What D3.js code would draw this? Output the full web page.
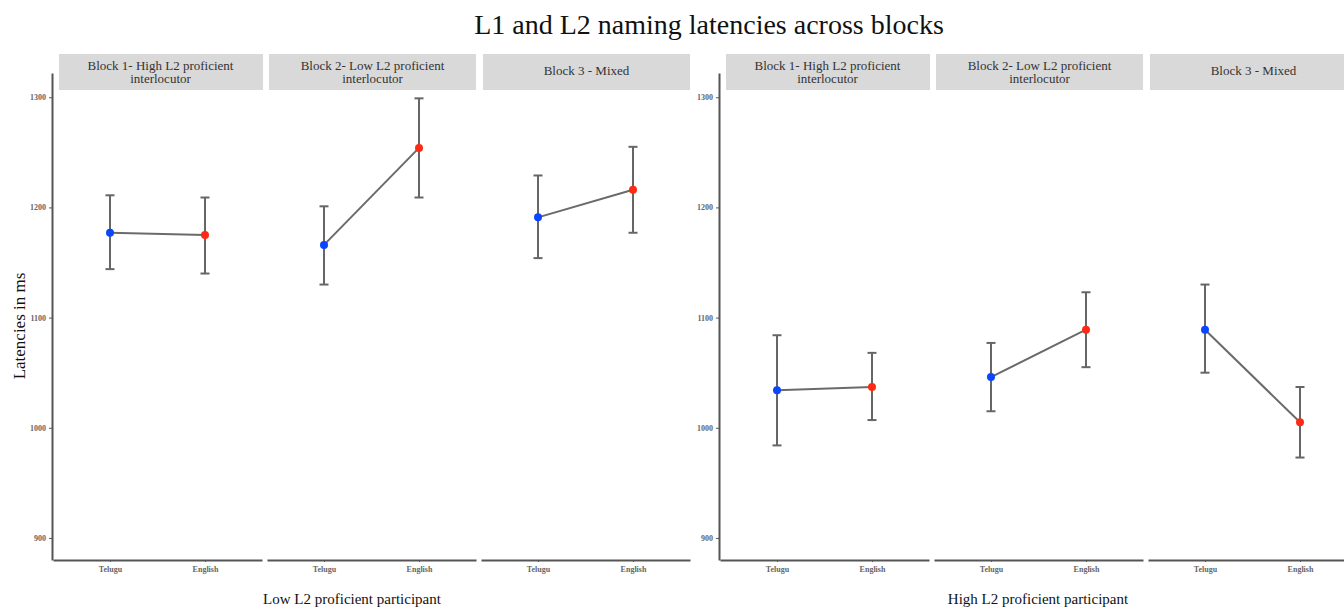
<!DOCTYPE html>
<html>
<head>
<meta charset="utf-8">
<script src="https://cdn.jsdelivr.net/npm/d3@7"></script>
<style>
  body { margin: 0; background: #fff; }
  svg { display: block; font-family: "Liberation Serif", "Times New Roman", serif; }
</style>
</head>
<body>
<div class="svg-container"></div>
<script>
// data
var blocks = ["Block 1- High L2 proficient|interlocutor", "Block 2- Low L2 proficient|interlocutor", "Block 3 - Mixed"];
var languages = ["Telugu", "English"];
var groups = ["Low L2 proficient participant", "High L2 proficient participant"];
var yTicks = [900, 1000, 1100, 1200, 1300];

// per block: [Telugu, English]
var lowMean  = [[1177, 1175], [1166, 1254], [1191, 1216]];
var lowUpper = [[1211, 1209], [1201, 1299], [1229, 1255]];
var lowLower = [[1144, 1140], [1130, 1209], [1154, 1177]];

var highMean  = [[1034, 1037], [1046, 1089], [1089, 1005]];
var highUpper = [[1084, 1068], [1077, 1123], [1130, 1037]];
var highLower = [[984, 1007], [1015, 1055], [1050, 973]];

var langColors = ["#0a46ff", "#ff2a14"];

function render() {
    var width = 1344;
    var height = 607;

    var svg = d3.select(".svg-container").append("svg")
        .attr("width", width)
        .attr("height", height);

    // title
    svg.append("text")
        .attr("x", 709)
        .attr("y", 34)
        .attr("text-anchor", "middle")
        .style("font-size", "28px")
        .style("fill", "#111")
        .text("L1 and L2 naming latencies across blocks");

    // Y axis label
    svg.append("text")
        .attr("transform", "rotate(-90)")
        .attr("x", -326)
        .attr("y", 25)
        .attr("text-anchor", "middle")
        .style("font-size", "17px")
        .style("fill", "#111")
        .text("Latencies in ms");

    var y = d3.scaleLinear().domain([880, 1322]).range([560, 73]);

    var plotX = [53, 720];
    var titleX = [352, 1038];
    var panelW = 209;
    var gap = 5;
    var stripTop = 54, stripH = 36;

    var allMean = [lowMean, highMean];
    var allUp = [lowUpper, highUpper];
    var allLo = [lowLower, highLower];

    groups.forEach(function(g, gi) {
        var gx = plotX[gi];

        // y axis on the leftmost panel
        var yAxis = svg.append("g")
            .attr("transform", "translate(" + (gx - 1) + ",0)")
            .call(d3.axisLeft(y).tickValues(yTicks).tickFormat(d3.format("d")).tickSize(3).tickSizeOuter(0));
        yAxis.select(".domain").attr("stroke", "#555").attr("stroke-width", 2);
        yAxis.selectAll(".tick line").attr("stroke", "#555");
        yAxis.selectAll(".tick text")
            .style("font-size", "8px")
            .style("font-weight", "bold")
            .style("fill", "#666")
            .style("font-family", "Liberation Serif, serif");

        // bottom title
        svg.append("text")
            .attr("x", titleX[gi])
            .attr("y", 604)
            .attr("text-anchor", "middle")
            .style("font-size", "15px")
            .style("fill", "#111")
            .text(g);

        blocks.forEach(function(b, bi) {
            var px = gx + bi * (panelW + gap);

            var x = d3.scalePoint().domain(languages).range([0, panelW]).padding(0.6);

            var panel = svg.append("g").attr("transform", "translate(" + px + ",0)");

            // strip
            panel.append("rect")
                .attr("x", bi === 0 ? 6 : 2)
                .attr("y", stripTop)
                .attr("width", bi === 0 ? panelW - 5 : panelW - 2)
                .attr("height", stripH)
                .attr("fill", "#d9d9d9");

            var lines = b.split("|");
            lines.forEach(function(l, li) {
                panel.append("text")
                    .attr("x", panelW / 2 + (bi === 0 ? 3 : 1))
                    .attr("y", lines.length > 1 ? stripTop + 16 + li * 13 : stripTop + 21)
                    .attr("text-anchor", "middle")
                    .style("font-size", "13px")
                    .style("fill", "#333")
                    .text(l);
            });

            // x axis
            var xAxis = panel.append("g")
                .attr("transform", "translate(0,560)")
                .call(d3.axisBottom(x).tickSize(2).tickSizeOuter(0));
            xAxis.select(".domain").attr("stroke", "#555").attr("stroke-width", 2);
            xAxis.selectAll(".tick line").attr("stroke", "#555");
            xAxis.selectAll(".tick text")
                .attr("dy", "0.9em")
                .style("font-size", "8px")
                .style("font-weight", "bold")
                .style("fill", "#666")
                .style("font-family", "Liberation Serif, serif");

            var pts = languages.map(function(lang, li) {
                return {
                    lang: lang,
                    mean: allMean[gi][bi][li],
                    up: allUp[gi][bi][li],
                    lo: allLo[gi][bi][li],
                    color: langColors[li]
                };
            });

            // error bars
            var eb = panel.selectAll(".eb").data(pts).enter().append("g");
            eb.append("line")
                .attr("x1", function(d) { return x(d.lang); })
                .attr("x2", function(d) { return x(d.lang); })
                .attr("y1", function(d) { return y(d.up); })
                .attr("y2", function(d) { return y(d.lo); })
                .attr("stroke", "#666")
                .attr("stroke-width", 2);
            ["up", "lo"].forEach(function(k) {
                eb.append("line")
                    .attr("x1", function(d) { return x(d.lang) - 4.5; })
                    .attr("x2", function(d) { return x(d.lang) + 4.5; })
                    .attr("y1", function(d) { return y(d[k]); })
                    .attr("y2", function(d) { return y(d[k]); })
                    .attr("stroke", "#666")
                    .attr("stroke-width", 2);
            });

            // connecting line
            var line = d3.line()
                .x(function(d) { return x(d.lang); })
                .y(function(d) { return y(d.mean); });
            panel.append("path")
                .datum(pts)
                .attr("d", line)
                .attr("fill", "none")
                .attr("stroke", "#6a6a6a")
                .attr("stroke-width", 2);

            // points
            panel.selectAll(".dot").data(pts).enter().append("circle")
                .attr("cx", function(d) { return x(d.lang); })
                .attr("cy", function(d) { return y(d.mean); })
                .attr("r", 4)
                .attr("fill", function(d) { return d.color; });
        });
    });
}

render();
</script>
</body>
</html>
